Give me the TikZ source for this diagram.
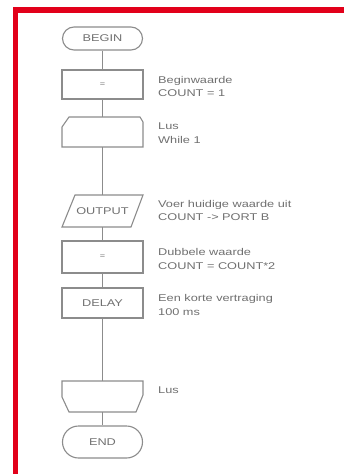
\documentclass[tikz,border=0pt]{standalone}
\usepackage{fontspec}
\setmainfont{Liberation Sans}[FakeStretch=1.3]
\usetikzlibrary{shapes.misc}
\definecolor{framered}{HTML}{E2001A}
\definecolor{ln}{HTML}{8C8C8C}
\definecolor{tx}{HTML}{707070}
\begin{document}
\begin{tikzpicture}[x=1pt,y=-1pt,
  shp/.style={draw=ln, line width=1.1pt},
  box/.style={rectangle, minimum width=81pt, inner sep=0pt, text=tx, font=\fontsize{9.8}{12}\selectfont},
  term/.style={rounded rectangle, draw=ln, line width=1.1pt, minimum width=80pt, inner sep=0pt, text=tx, font=\fontsize{9.8}{12}\selectfont},
  lbl/.style={anchor=west, align=left, inner sep=0pt, text=tx, font=\fontsize{9.8}{13.5}\selectfont},
  conn/.style={draw=ln, line width=1.1pt}]
\useasboundingbox (0,0) rectangle (344,474);
\fill[white] (0,0) rectangle (344,474);
% red frame
\draw[framered, line width=5.5pt] (15.5,474) -- (15.5,10) -- (344,10);

% nodes
\node[term, minimum height=23pt] (begin) at (102.5,38.5) {BEGIN};
\node[box, shp, minimum height=29pt] (b1) at (102.5,84.5) {\fontsize{7}{8}\selectfont =};
\node[box, minimum height=30pt] (ls) at (102.5,132) {};
\draw[shp] (62,147) -- (62,127) -- (69,117) -- (140,117) -- (143,122) -- (143,147) -- cycle;
\node[box, minimum height=32pt] (out) at (102.5,211) {OUTPUT};
\draw[shp] (62,227) -- (75,195) -- (143,195) -- (131,227) -- cycle;
\node[box, shp, minimum height=32pt] (b2) at (102.5,257) {\fontsize{7}{8}\selectfont =};
\node[box, shp, minimum height=30pt] (delay) at (102.5,303) {DELAY};
\node[box, minimum height=31pt] (le) at (102.5,396.5) {};
\draw[shp] (62,381) -- (143,381) -- (143,395) -- (136,412) -- (69,412) -- (62,397) -- cycle;
\node[term, minimum height=32pt] (end) at (102.5,442) {END};

% connectors
\draw[conn] (begin.south) -- (b1.north);
\draw[conn] (b1.south) -- (ls.north);
\draw[conn] (ls.south) -- (out.north);
\draw[conn] (out.south) -- (b2.north);
\draw[conn] (b2.south) -- (delay.north);
\draw[conn] (delay.south) -- (le.north);
\draw[conn] (le.south) -- (end.north);

% labels
\node[lbl] (l1) at (158,86.5) {Beginwaarde\\COUNT = 1};
\node[lbl] (l2) at (158,133) {Lus\\While 1};
\node[lbl] (l3) at (158,210.5) {Voer huidige waarde uit\\COUNT -> PORT B};
\node[lbl] (l4) at (158,259) {Dubbele waarde\\COUNT = COUNT*2};
\node[lbl] (l5) at (158,305) {Een korte vertraging\\100 ms};
\node[lbl] (l6) at (158,390) {Lus};
\end{tikzpicture}
\end{document}
